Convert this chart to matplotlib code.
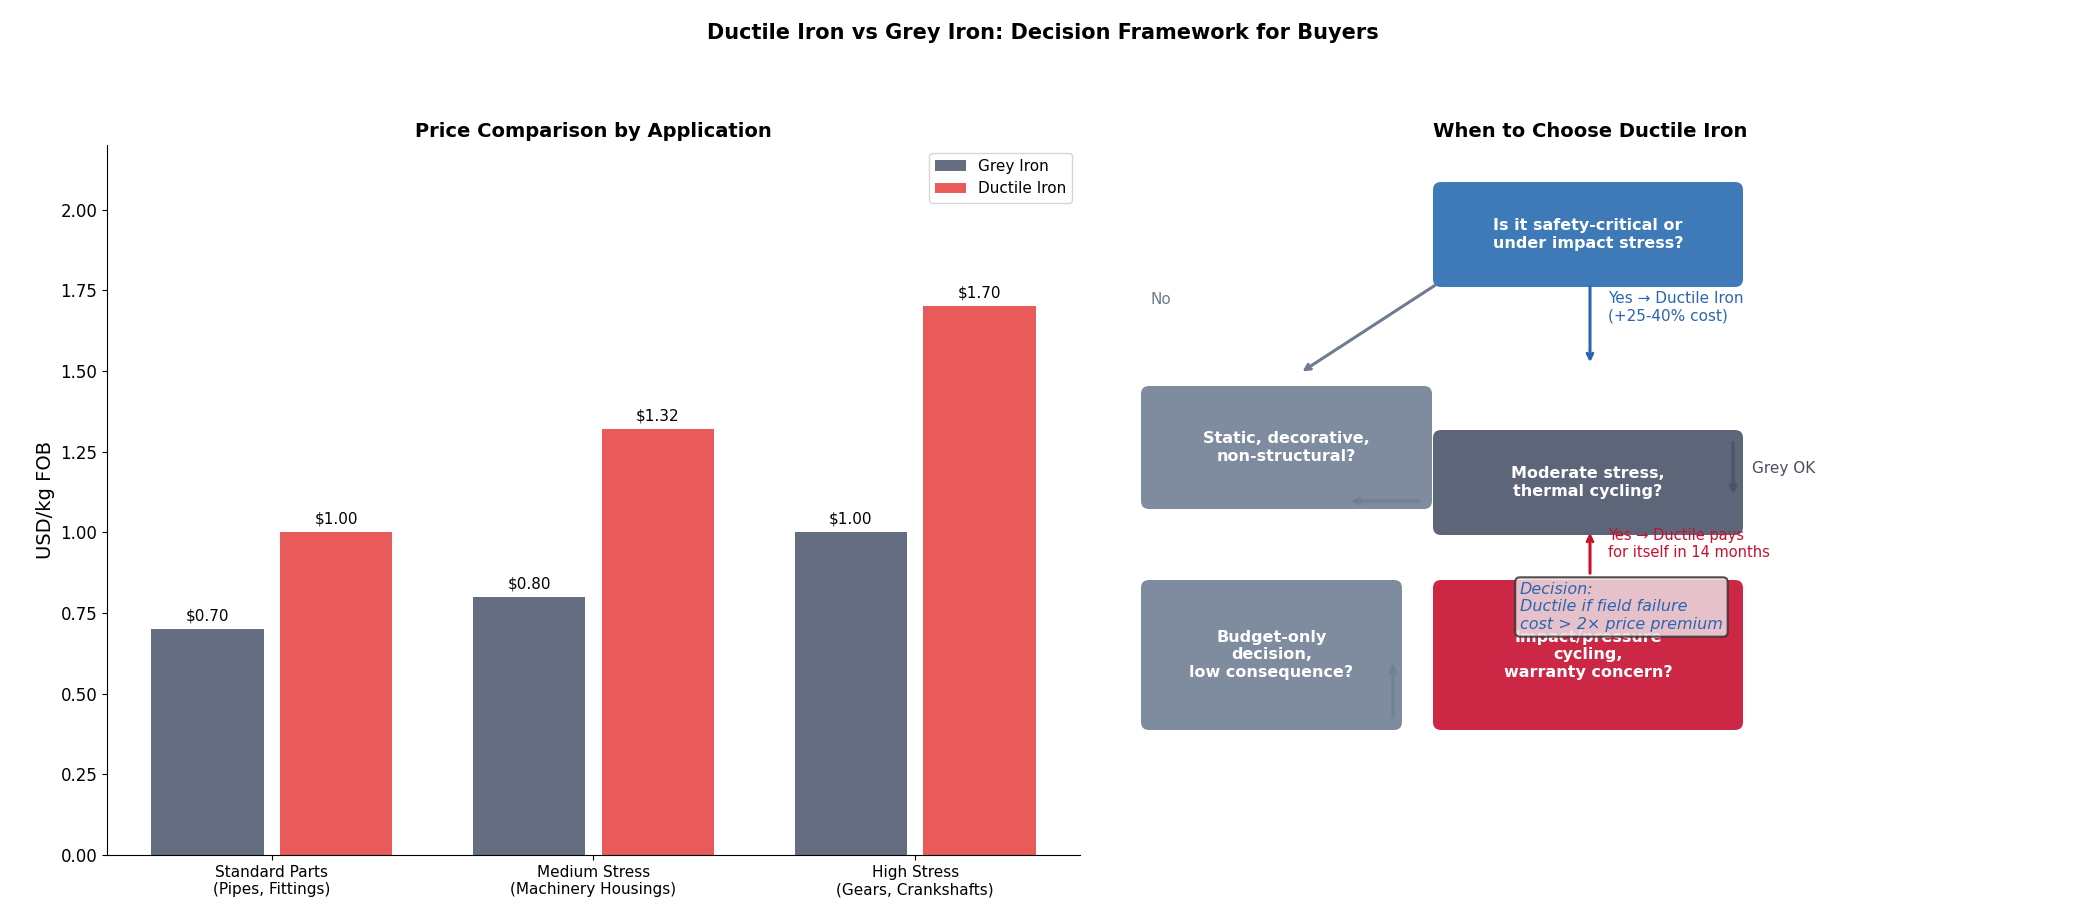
import matplotlib.pyplot as plt
from matplotlib.patches import FancyBboxPatch
import numpy as np

# data
categories = ["Standard Parts\n(Pipes, Fittings)", "Medium Stress\n(Machinery Housings)", "High Stress\n(Gears, Crankshafts)"]
grey_price = [0.70, 0.80, 1.00]
ductile_price = [1.00, 1.32, 1.70]

GREY = "#646e80"
RED = "#e85b5a"

fig = plt.figure(figsize=(20.85, 9.24), dpi=100)
fig.suptitle("Ductile Iron vs Grey Iron: Decision Framework for Buyers", fontsize=15, fontweight="bold", y=0.975)

W, H = 2085, 924
def frac(x0, y0, x1, y1):
    return [x0 / W, 1 - y1 / H, (x1 - x0) / W, (y1 - y0) / H]

# -------------------------------------------------------------------------------
# Left: price bars
# -------------------------------------------------------------------------------
ax = fig.add_axes(frac(107, 145, 1080, 855))
x = np.arange(len(categories))
w = 0.35
b1 = ax.bar(x - 0.2, grey_price, w, color=GREY, label="Grey Iron")
b2 = ax.bar(x + 0.2, ductile_price, w, color=RED, label="Ductile Iron")
for bars in (b1, b2):
    for b in bars:
        ax.annotate(f"${b.get_height():.2f}", (b.get_x() + b.get_width() / 2, b.get_height()),
                    xytext=(0, 4), textcoords="offset points", ha="center", va="bottom", fontsize=11)
ax.set_xticks(x)
ax.set_xticklabels(categories, fontsize=11)
ax.set_ylim(0, 2.2)
ax.set_yticks(np.arange(0, 2.01, 0.25))
ax.tick_params(axis="y", labelsize=12)
ax.set_ylabel("USD/kg FOB", fontsize=14)
ax.set_title("Price Comparison by Application", fontsize=14, fontweight="bold")
ax.spines[["top", "right"]].set_visible(False)
ax.legend(fontsize=11, loc="upper right")

# -------------------------------------------------------------------------------
# Right: decision flow
# -------------------------------------------------------------------------------
ax2 = fig.add_axes(frac(1140, 145, 2040, 855))
ax2.set_xlim(1140, 2040)
ax2.set_ylim(855, 145)
ax2.axis("off")
ax2.set_title("When to Choose Ductile Iron", fontsize=14, fontweight="bold", x=0.5)

def box(x0, y0, x1, y1, color, text):
    ax2.add_patch(FancyBboxPatch((x0, y0), x1 - x0, y1 - y0, boxstyle="round,pad=0,rounding_size=8",
                                 fc=color, ec="none", zorder=2))
    ax2.text((x0 + x1) / 2, (y0 + y1) / 2, text, ha="center", va="center", color="white",
             fontsize=11.5, fontweight="bold", zorder=3)

box(1433, 182, 1743, 287, "#3f7ab8", "Is it safety-critical or\nunder impact stress?")
box(1141, 386, 1432, 509, "#7f8b9e", "Static, decorative,\nnon-structural?")
box(1433, 430, 1743, 535, "#5d6678", "Moderate stress,\nthermal cycling?")
box(1141, 580, 1402, 730, "#7f8b9e", "Budget-only\ndecision,\nlow consequence?")
box(1433, 580, 1743, 730, "#cc2744", "Impact/pressure\ncycling,\nwarranty concern?")

def arrow(x0, y0, x1, y1, color, lw=2, alpha=1.0):
    ax2.annotate("", xy=(x1, y1), xytext=(x0, y0),
                 arrowprops=dict(arrowstyle="->", color=color, lw=lw, alpha=alpha), zorder=4)

arrow(1437, 284, 1300, 373, "#6f7b90", lw=2.2)
arrow(1590, 284, 1590, 365, "#2a66b0", lw=2.2)
arrow(1422, 501, 1348, 501, "#6f7b90", lw=2.5, alpha=0.6)
arrow(1733, 440, 1733, 497, "#4a5365", lw=2.5, alpha=0.8)
arrow(1590, 576, 1590, 530, "#c8102e", lw=2.2)
arrow(1393, 720, 1393, 660, "#6f7b90", lw=2.5, alpha=0.6)

ax2.text(1150, 300, "No", color="#6f7b90", fontsize=11, va="center")
ax2.text(1608, 307, "Yes \u2192 Ductile Iron\n(+25-40% cost)", color="#2a66b0", fontsize=11, va="center")
ax2.text(1752, 469, "Grey OK", color="#4a5060", fontsize=11, va="center")
ax2.text(1608, 544, "Yes \u2192 Ductile pays\nfor itself in 14 months", color="#c8102e", fontsize=10.5, va="center")
ax2.text(1520, 607, "Decision:\nDuctile if field failure\ncost > 2\u00d7 price premium", color="#2a66b0",
         fontsize=11.5, style="italic", va="center", ha="left", zorder=6,
         bbox=dict(boxstyle="round,pad=0.3", fc="#ecdde3", ec="#333333", lw=1.5, alpha=0.85))

fig.savefig("out.png", dpi=100)
